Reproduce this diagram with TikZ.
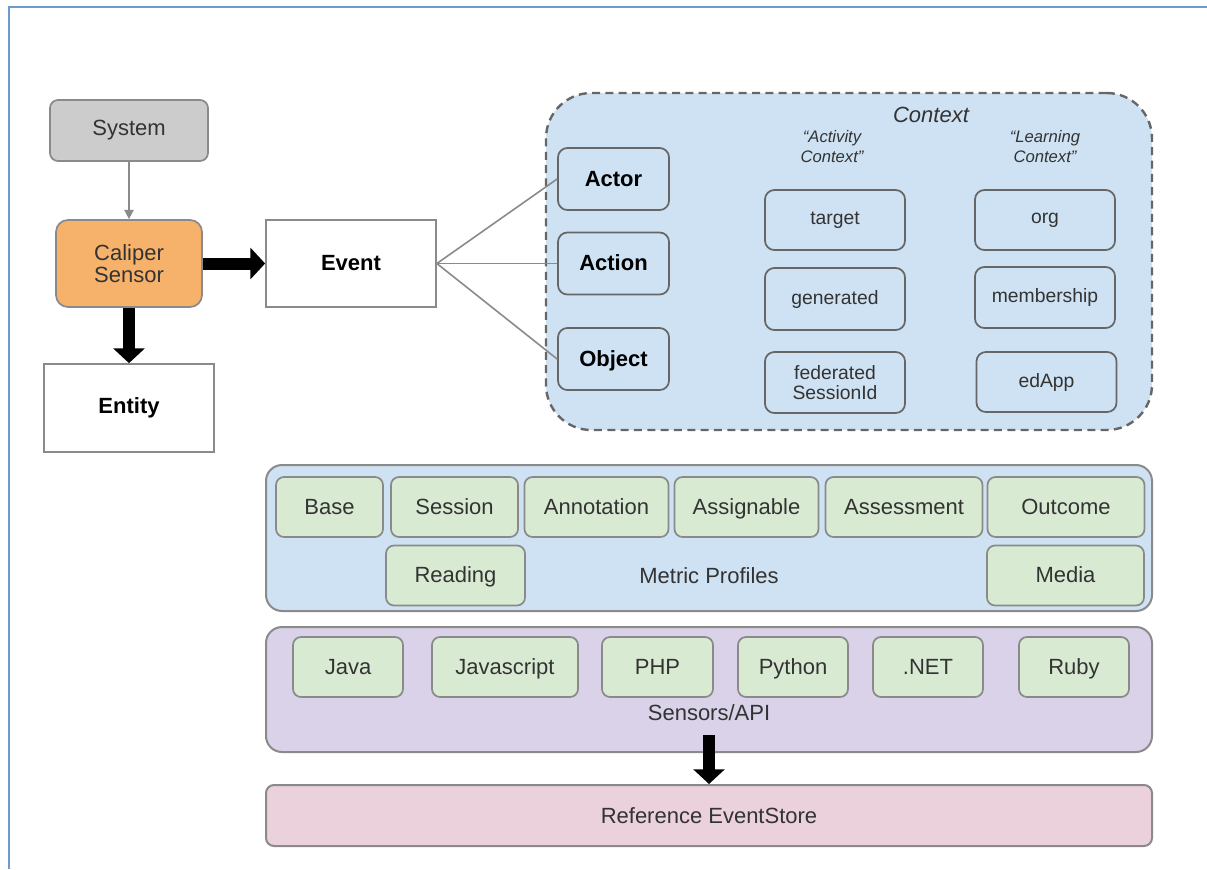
\documentclass[tikz,border=0pt]{standalone}
\usepackage{fontspec}
\setmainfont{Liberation Sans}
\usetikzlibrary{arrows.meta}
\definecolor{frameblue}{HTML}{6A9BD1}
\definecolor{sysgray}{HTML}{CCCCCC}
\definecolor{calorange}{HTML}{F6B26B}
\definecolor{ctxblue}{HTML}{CFE2F3}
\definecolor{profgreen}{HTML}{D9EAD3}
\definecolor{apilav}{HTML}{D9D2E9}
\definecolor{storepink}{HTML}{EAD1DC}
\definecolor{edgegray}{HTML}{8A8A8A}
\definecolor{darkedge}{HTML}{666666}
\definecolor{txt}{HTML}{333333}
\newcommand{\bigtxt}{\fontsize{16.5}{19}\selectfont}
\newcommand{\midtxt}{\fontsize{14.5}{17}\selectfont}
\newcommand{\smalltxt}{\fontsize{12.5}{15}\selectfont}
\tikzset{
  rbox/.style={draw=edgegray, line width=1.3pt, rounded corners=6pt, inner sep=0pt, align=center, text=txt, font=\bigtxt},
  sqbox/.style={draw=edgegray, line width=1.3pt, fill=white, inner sep=0pt, align=center, font=\bigtxt\bfseries, text=black},
  ctxitem/.style={draw=darkedge, line width=1.3pt, rounded corners=7pt, fill=ctxblue, inner sep=0pt, align=center, text=txt, font=\midtxt, minimum width=105pt, minimum height=45pt},
  eac/.style={ctxitem, font=\bigtxt\bfseries, text=black, minimum width=83.25pt, minimum height=46.5pt, text height=12pt, text depth=1pt},
  green/.style={rbox, fill=profgreen, minimum height=45pt, text height=12pt, text depth=1pt},
  layer/.style={draw=edgegray, line width=1.5pt, rounded corners=12pt, inner sep=0pt, minimum width=664.5pt},
  bigarrow/.style={line width=9pt, -{Triangle[length=11pt,width=23pt]}},
  thin/.style={draw=edgegray, line width=1.2pt},
}
\begin{document}
\begin{tikzpicture}[x=0.75pt,y=-0.75pt]
\useasboundingbox (0,0) rectangle (1207,869);
% frame
\draw[frameblue, line width=1.2pt] (9,869) -- (9,7) -- (1207,7);

% left part
\node[rbox, fill=sysgray, minimum width=118.5pt, minimum height=45.75pt] (system) at (129,130.5) {System};
\node[rbox, fill=calorange, rounded corners=9pt, minimum width=109.5pt, minimum height=65.25pt, text=black!80] (caliper) at (129,263.5) {Caliper\\[-2pt]Sensor};
\node[sqbox, minimum width=127.5pt, minimum height=65.25pt] (event) at (351,263.5) {Event};
\node[sqbox, minimum width=127.5pt, minimum height=66pt] (entity) at (129,408) {Entity};

\draw[thin, -{Triangle[length=7pt,width=7pt]}, edgegray] (system) -- (caliper);
\draw[bigarrow] (caliper.east) -- (caliper.east -| event.west);
\draw[bigarrow] (caliper.south) -- (caliper.south |- entity.north);

% context
\node[draw=darkedge, dashed, dash pattern=on 6pt off 4pt, line width=1.8pt, fill=ctxblue, rounded corners=34pt, minimum width=454.5pt, minimum height=252.75pt, inner sep=0pt] (context) at (849,261.5) {};
\node[font=\bigtxt\itshape, text=txt] (ctxtitle) at (931,115) {Context};
\node[font=\smalltxt\itshape, text=txt, align=center] (actctx) at (832,147) {``Activity\\Context''};
\node[font=\smalltxt\itshape, text=txt, align=center] (learnctx) at (1045,147) {``Learning\\Context''};

\node[eac] (actor) at (613.5,179) {Actor};
\node[eac] (action) at (613.5,263.5) {Action};
\node[eac] (object) at (613.5,359) {Object};

\node[ctxitem] (target) at (835,220) {target};
\node[ctxitem, minimum height=46.5pt] (generated) at (835,299) {generated};
\node[ctxitem, minimum height=45.75pt] (federated) at (835,382.5) {federated\\[-2pt]SessionId};
\node[ctxitem] (org) at (1045,220) {org};
\node[ctxitem, minimum height=45.75pt] (membership) at (1045,297.5) {membership};
\node[ctxitem] (edapp) at (1046.5,382) {edApp};

\draw[thin] (event.east) -- (actor.west);
\draw[thin] (event.east) -- (action.west);
\draw[thin] (event.east) -- (object.west);

% metric profiles
\node[layer, fill=ctxblue, minimum height=109.5pt] (metric) at (709,538) {};
\node[font=\bigtxt, text=txt] (metriclabel) at (709,576) {Metric Profiles};
\node[green, minimum width=80.25pt] (base) at (329.5,507) {Base};
\node[green, minimum width=95.25pt] (session) at (454.5,507) {Session};
\node[green, minimum width=108pt] (annotation) at (596.5,507) {Annotation};
\node[green, minimum width=108pt] (assignable) at (746.5,507) {Assignable};
\node[green, minimum width=117.75pt] (assessment) at (904,507) {Assessment};
\node[green, minimum width=117.75pt] (outcome) at (1066,507) {Outcome};
\node[green, minimum width=104.25pt] (reading) at (455.5,575.5) {Reading};
\node[green, minimum width=117.75pt] (media) at (1065.5,575.5) {Media};

% sensors/api
\node[layer, fill=apilav, minimum height=93.75pt] (sensors) at (709,689.5) {};
\node[font=\bigtxt, text=txt] (apilabel) at (709,713) {Sensors/API};
\node[green, minimum width=82.5pt] (java) at (348,667) {Java};
\node[green, minimum width=109.5pt] (javascript) at (505,667) {Javascript};
\node[green, minimum width=83.25pt] (php) at (657.5,667) {PHP};
\node[green, minimum width=82.5pt] (python) at (793,667) {Python};
\node[green, minimum width=82.5pt] (net) at (928,667) {.NET};
\node[green, minimum width=82.5pt] (ruby) at (1074,667) {Ruby};

% store
\node[layer, rounded corners=6pt, fill=storepink, minimum height=45.75pt, font=\bigtxt, text=txt] (store) at (709,815.5) {Reference EventStore};
\draw[bigarrow, shorten <=7pt] (apilabel.south) -- (store.north);
\end{tikzpicture}
\end{document}
